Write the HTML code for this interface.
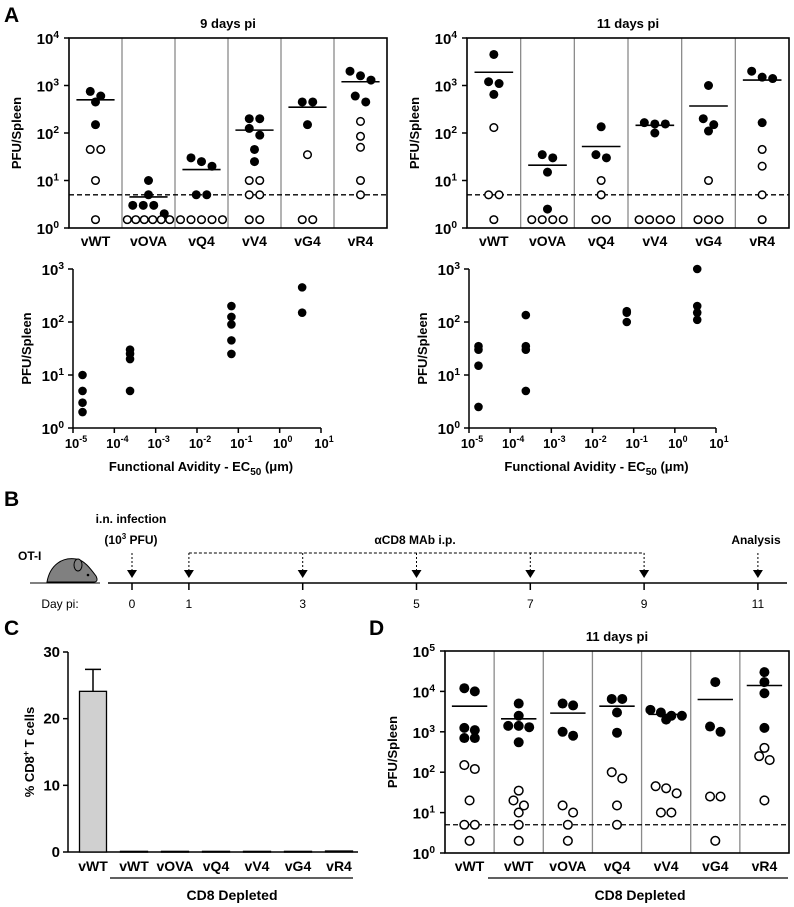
<!DOCTYPE html>
<html><head><meta charset="utf-8">
<style>
body{margin:0;background:#fff;}
svg{display:block;font-family:"Liberation Sans",sans-serif;}
</style></head>
<body>
<svg id="fig" width="794" height="907" viewBox="0 0 794 907" xmlns="http://www.w3.org/2000/svg">
<g font-size="21" font-weight="bold">
<text x="4" y="22">A</text>
<text x="4" y="506">B</text>
<text x="4" y="635">C</text>
<text x="369" y="635">D</text>
</g>
</svg>
<script>
const NS="http://www.w3.org/2000/svg";
const svg=document.getElementById('fig');
function el(tag,attrs,parent,txt){const e=document.createElementNS(NS,tag);for(const k in attrs)e.setAttribute(k,attrs[k]);if(txt!==undefined)e.textContent=txt;(parent||svg).appendChild(e);return e;}

// ---- data: panel A column scatter, 9 days ----
const catsA=["vWT","vOVA","vQ4","vV4","vG4","vR4"];
const d9Filled=[[750,600,450,150],[10,5,3,3,3,2],[30,25,20,5,5],[200,200,125,90,45,25],[450,450,150],[2000,1600,1300,600,450]];
const d9Open=[[45,45,10,1.5],[1.5,1.5,1.5,1.5,1.5,1.5],[1.5,1.5,1.5,1.5,1.5],[10,10,5,5,1.5,1.5],[35,1.5,1.5],[175,85,50,10,5]];
const d9Mean=[500,4.5,17,115,350,1200];
// ---- 11 days ----
const d11Filled=[[4500,1200,1100,650],[35,30,15,2.5],[135,35,30,5],[165,155,155,100],[1000,200,150,110],[2000,1500,1400,165]];
const d11Open=[[130,5,5,1.5],[1.5,1.5,1.5,1.5],[10,5,1.5,1.5],[1.5,1.5,1.5,1.5],[10,1.5,1.5,1.5],[45,20,5,1.5]];
const d11Mean=[1900,21,52,145,370,1300];
// ---- panel D ----
const catsD=["vWT","vWT","vOVA","vQ4","vV4","vG4","vR4"];
const dDFilled=[[12000,10000,1250,1100,700,700],[5000,2500,1400,1400,1300,550],[5000,4500,1000,800],[6500,6500,3000,950],[3500,3000,2500,2500,2000],[17000,1350,1000],[30000,17000,9000,1250]];
const dDOpen=[[150,120,20,5,5,2],[35,20,15,10,5,2],[15,10,5,2],[100,70,15,5],[45,40,30,10,10],[25,25,2],[400,250,200,20]];
const dDMean=[4300,2100,2900,4300,2700,6300,14000];
// ---- avidity scatter ----
const avidX=[1.7e-5,2.4e-4,0.068,3.5];
const av9=[[10,5,3,2],[30,25,20,5],[200,125,90,45,25],[450,150]];
const av11=[[35,30,15,2.5],[135,35,30,5],[160,150,100],[1000,200,150,110]];
// ---- panel C ----
const catsC=["vWT","vWT","vOVA","vQ4","vV4","vG4","vR4"];
const pctC=[24.1,0.1,0.1,0.1,0.1,0.1,0.15];
const errC=[3.3,0,0,0,0,0,0];
const cTicks=[0,10,20,30];
// ---- panel B ----
const days=[0,1,3,5,7,9,11];
const mabDays=[1,3,5,7,9];

function powLabel(g,x,y,base,exp,anchor,size){
  const t=el('text',{x:x,y:y,'text-anchor':anchor,'font-size':size,'font-weight':'bold'},g);
  el('tspan',{},t,base);
  el('tspan',{dy:-6,'font-size':size*0.68},t,exp);
  return t;
}

function swarm(vals,spacing,maxW){
  const s=vals.map(v=>Math.log10(v));
  const out=[];let i=0;
  while(i<s.length){let j=i;while(j+1<s.length&&Math.abs(s[j+1]-s[i])<0.2)j++;
    const n=j-i+1;const sp=n>1?Math.min(spacing,maxW/(n-1)):spacing;
    for(let k=0;k<n;k++)out.push((k-(n-1)/2)*sp);i=j+1;}
  return out;
}

function colScatter(name,x0,x1,yTop,yBot,decMax,cats,filled,open,means,title,r,sp){
  const g=el('g',{});
  const n=cats.length,cw=(x1-x0)/n;
  const ys=v=>yBot-(Math.log10(v))/decMax*(yBot-yTop);
  for(let i=1;i<n;i++){const dl=el('line',{x1:x0+i*cw,x2:x0+i*cw,y1:yTop,y2:yBot,stroke:'#8a8a8a','stroke-width':1.3},g);
    }
  const dash=el('line',{x1:x0,x2:x1,y1:ys(5),y2:ys(5),stroke:'#000','stroke-width':1.3,'stroke-dasharray':'5,3'},g);
  
  const fr=el('rect',{x:x0,y:yTop,width:x1-x0,height:yBot-yTop,fill:'none',stroke:'#000','stroke-width':1.6},g);
  
  for(let d=0;d<=decMax;d++){const y=yBot-d/decMax*(yBot-yTop);
    el('line',{x1:x0-5,x2:x0,y1:y,y2:y,stroke:'#000','stroke-width':1.5},g);
    const t=powLabel(g,x0-10,y+6,'10',String(d),'end',15);
    }
  const yl=el('text',{transform:`translate(${x0-48},${(yTop+yBot)/2}) rotate(-90)`,'text-anchor':'middle','font-size':13,'font-weight':'bold'},g,'PFU/Spleen');
  
  const tt=el('text',{x:(x0+x1)/2,y:yTop-10,'text-anchor':'middle','font-size':13,'font-weight':'bold'},g,title);
  
  for(let i=0;i<n;i++){const cx=x0+(i+0.5)*cw;
    const cl=el('text',{x:cx,y:yBot+18,'text-anchor':'middle','font-size':14,'font-weight':'bold'},g,cats[i]);
    
    const fo=swarm(filled[i],sp,cw*0.8);
    filled[i].forEach((v,k)=>{const c=el('circle',{cx:cx+fo[k],cy:ys(v),r:r,fill:'#000'},g);
      });
    const oo=swarm(open[i],sp,cw*0.8);
    open[i].forEach((v,k)=>{const c=el('circle',{cx:cx+oo[k],cy:ys(v),r:r-0.7,fill:'#fff',stroke:'#000','stroke-width':1.5},g);
      });
    const ml=el('line',{x1:cx-cw*0.36,x2:cx+cw*0.36,y1:ys(means[i]),y2:ys(means[i]),stroke:'#000','stroke-width':1.6},g);
    
  }
  return g;
}

colScatter('chart-9-days',69,387,38,228,4,catsA,d9Filled,d9Open,d9Mean,'9 days pi',4.5,10.5);
colScatter('chart-11-days',467,789,38,228,4,catsA,d11Filled,d11Open,d11Mean,'11 days pi',4.5,10.5);
const gD=colScatter('chart-d-depleted',445,789,651,853,5,catsD,dDFilled,dDOpen,dDMean,'11 days pi',5,10.5);
{const u=el('line',{x1:488,x2:788,y1:878,y2:878,stroke:'#000','stroke-width':1.3},gD);
 const t=el('text',{x:640,y:900,'text-anchor':'middle','font-size':14,'font-weight':'bold'},gD,'CD8 Depleted');}

function avidScatter(name,x0,x1,yTop,yBot,data){
  const g=el('g',{});
  const xs=v=>x0+(Math.log10(v)+5)/6*(x1-x0);
  const ys=v=>yBot-Math.log10(v)/3*(yBot-yTop);
  el('line',{x1:x0,x2:x0,y1:yTop,y2:yBot,stroke:'#000','stroke-width':1.5},g);
  el('line',{x1:x0,x2:x1,y1:yBot,y2:yBot,stroke:'#000','stroke-width':1.5},g);
  for(let d=0;d<=3;d++){const y=ys(Math.pow(10,d));el('line',{x1:x0-5,x2:x0,y1:y,y2:y,stroke:'#000','stroke-width':1.5},g);
    const t=powLabel(g,x0-9,y+6,'10',String(d),'end',15);}
  for(let e=-5;e<=1;e++){const x=xs(Math.pow(10,e));el('line',{x1:x,x2:x,y1:yBot,y2:yBot+5,stroke:'#000','stroke-width':1.5},g);
    const t=powLabel(g,x+3,yBot+20,'10',String(e),'middle',13);}
  const yl=el('text',{transform:`translate(${x0-42},${(yTop+yBot)/2}) rotate(-90)`,'text-anchor':'middle','font-size':13,'font-weight':'bold'},g,'PFU/Spleen');
  
  const xt=el('text',{x:(x0+x1)/2+4,y:yBot+43,'text-anchor':'middle','font-size':13,'font-weight':'bold'},g);
  
  el('tspan',{},xt,'Functional Avidity - EC');el('tspan',{dy:4,'font-size':10},xt,'50');el('tspan',{dy:-4},xt,' (\u03BCm)');
  data.forEach((arr,i)=>arr.forEach(v=>{const c=el('circle',{cx:xs(avidX[i]),cy:ys(v),r:4.3,fill:'#000'},g);
    }));
}
avidScatter('avidity-9-days',73,321,269,428,av9);
avidScatter('avidity-11-days',469,716,269,428,av11);

// ---- panel B timeline ----
(function(){
  const g=el('g',{});
  const dx=d=>132+d*56.9;
  const ly=583;
  el('line',{x1:108,x2:787,y1:ly,y2:ly,stroke:'#000','stroke-width':1.5},g);
  const dl=el('text',{x:60,y:608,'font-size':12,'text-anchor':'middle'},g,'Day pi:');
  days.forEach(d=>{const x=dx(d);el('line',{x1:x,x2:x,y1:ly,y2:ly+7,stroke:'#000','stroke-width':1.5},g);
    const t=el('text',{x:x,y:608,'text-anchor':'middle','font-size':12},g,String(d));});
  const arrow=(x,top)=>{el('line',{x1:x,x2:x,y1:top,y2:570,stroke:'#000','stroke-width':1,'stroke-dasharray':'2,2'},g);
    const p=el('path',{d:`M${x-5},570 L${x+5},570 L${x},578 Z`,fill:'#000'},g);};
  arrow(dx(0),553);arrow(dx(11),553);
  mabDays.forEach(d=>arrow(dx(d),553));
  el('line',{x1:dx(mabDays[0]),x2:dx(mabDays[mabDays.length-1]),y1:553,y2:553,stroke:'#000','stroke-width':1,'stroke-dasharray':'3,2'},g);
  const t1=el('text',{x:131,y:523,'text-anchor':'middle','font-size':12,'font-weight':'bold'},g,'i.n. infection');
  const t2=el('text',{x:131,y:544,'text-anchor':'middle','font-size':12,'font-weight':'bold'},g);
  el('tspan',{},t2,'(10');el('tspan',{dy:-5,'font-size':8},t2,'3');el('tspan',{dy:5},t2,' PFU)');
  const t3=el('text',{x:415,y:544,'text-anchor':'middle','font-size':12,'font-weight':'bold'},g,'\u03B1CD8 MAb i.p.');
  const t4=el('text',{x:756,y:544,'text-anchor':'middle','font-size':12,'font-weight':'bold'},g,'Analysis');
  const t5=el('text',{x:18,y:560,'font-size':12,'font-weight':'bold'},g,'OT-I');
  const m=el('g',{},g);
  el('line',{x1:30,x2:100,y1:583,y2:583,stroke:'#000','stroke-width':1},m);
  el('path',{d:'M47,582 C50,565 62,557 76,559 C84,560 90,568 96,576 C98,580 97,582 94,582 Z',fill:'#808080',stroke:'#000','stroke-width':1},m);
  el('ellipse',{cx:78,cy:565,rx:4,ry:6,fill:'#808080',stroke:'#000','stroke-width':1},m);
  el('circle',{cx:88,cy:575,r:1.3,fill:'#000'},m);
})();

// ---- panel C bar chart ----
(function(){
  const g=el('g',{});
  const x0=68,x1=358,yTop=652,yBot=852,ymax=30;
  const ys=v=>yBot-v/ymax*(yBot-yTop);
  const cx=i=>93+i*41;
  el('line',{x1:x0,x2:x0,y1:yTop,y2:yBot,stroke:'#000','stroke-width':1.5},g);
  el('line',{x1:x0,x2:x1,y1:yBot,y2:yBot,stroke:'#000','stroke-width':1.5},g);
  cTicks.forEach(v=>{el('line',{x1:x0-5,x2:x0,y1:ys(v),y2:ys(v),stroke:'#000','stroke-width':1.5},g);
    const t=el('text',{x:x0-8,y:ys(v)+5,'text-anchor':'end','font-size':15,'font-weight':'bold'},g,String(v));});
  const yl=el('text',{transform:`translate(34,${(yTop+yBot)/2}) rotate(-90)`,'text-anchor':'middle','font-size':13,'font-weight':'bold'},g);
  
  el('tspan',{},yl,'% CD8');el('tspan',{dy:-5,'font-size':9},yl,'+');el('tspan',{dy:5},yl,' T cells');
  catsC.forEach((c,i)=>{const x=cx(i),w=27;
    const b=el('rect',{x:x-w/2,y:ys(pctC[i]),width:w,height:Math.max(yBot-ys(pctC[i]),0.8),fill:'#d0d0d0',stroke:'#000','stroke-width':1.3},g);
    
    if(errC[i]>0){const e=el('path',{d:`M${x},${ys(pctC[i])} V${ys(pctC[i]+errC[i])} M${x-8},${ys(pctC[i]+errC[i])} H${x+8}`,stroke:'#000','stroke-width':1.5,fill:'none'},g);
      }
    const t=el('text',{x:x,y:yBot+19,'text-anchor':'middle','font-size':14,'font-weight':'bold'},g,c);});
  const u=el('line',{x1:110,x2:353,y1:878,y2:878,stroke:'#000','stroke-width':1.3},g);
  const t=el('text',{x:232,y:900,'text-anchor':'middle','font-size':14,'font-weight':'bold'},g,'CD8 Depleted');
})();
</script>
</body></html>
